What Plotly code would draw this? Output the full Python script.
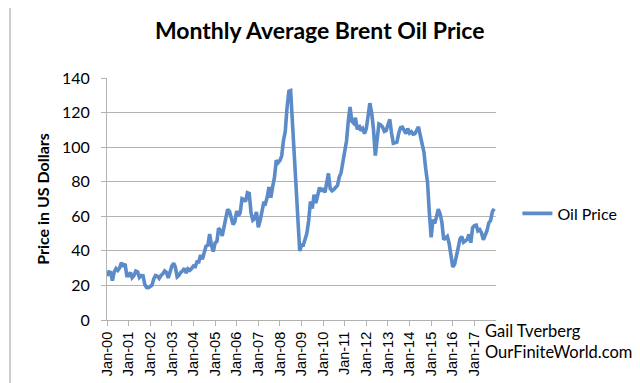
import plotly.graph_objects as go
import pandas as pd

years = list(range(2000, 2018))
prices = [
    # 2000
    25.51, 27.78, 27.49, 22.76, 27.74, 29.80, 28.68, 30.20, 33.14, 30.96, 32.55, 25.66,
    # 2001
    25.62, 27.50, 24.50, 25.66, 28.31, 27.85, 24.61, 25.68, 25.62, 20.54, 18.80, 18.71,
    # 2002
    19.42, 20.28, 23.70, 25.73, 25.35, 24.08, 25.74, 26.65, 28.40, 27.54, 24.34, 28.33,
    # 2003
    31.18, 32.77, 30.61, 25.00, 25.86, 27.65, 28.35, 29.89, 27.11, 29.61, 28.75, 29.81,
    # 2004
    31.28, 30.86, 33.63, 33.59, 37.57, 35.18, 38.22, 42.74, 43.20, 49.78, 43.11, 39.60,
    # 2005
    44.51, 45.48, 53.10, 51.88, 48.65, 54.35, 57.52, 63.98, 62.91, 58.54, 55.24, 56.86,
    # 2006
    62.99, 60.21, 62.06, 70.26, 69.78, 68.56, 73.67, 73.23, 61.96, 57.81, 58.76, 62.47,
    # 2007
    53.68, 57.56, 62.05, 67.49, 67.21, 71.05, 76.93, 70.76, 77.17, 82.34, 92.41, 90.93,
    # 2008
    92.18, 94.99, 103.64, 109.07, 122.80, 132.32, 132.72, 113.24, 97.23, 71.58, 52.45, 39.95,
    # 2009
    43.44, 43.32, 46.54, 50.18, 57.30, 68.61, 64.44, 72.51, 67.65, 72.77, 76.66, 74.46,
    # 2010
    76.17, 73.75, 78.83, 84.82, 75.95, 74.76, 75.58, 77.04, 77.84, 82.67, 85.28, 91.45,
    # 2011
    96.52, 103.72, 114.64, 123.26, 114.99, 113.83, 116.97, 110.22, 112.83, 109.55, 110.77, 107.87,
    # 2012
    110.69, 119.33, 125.45, 119.75, 110.34, 95.16, 102.62, 113.36, 112.86, 111.71, 109.06, 109.49,
    # 2013
    112.96, 116.05, 108.47, 102.25, 102.56, 102.92, 107.93, 111.28, 111.60, 109.08, 107.79, 110.76,
    # 2014
    108.12, 108.90, 107.48, 107.76, 109.54, 111.80, 106.77, 101.61, 97.09, 87.43, 79.44, 62.34,
    # 2015
    47.76, 58.10, 55.89, 59.52, 64.08, 61.48, 56.56, 46.52, 47.62, 48.43, 44.27, 38.01,
    # 2016
    30.70, 32.18, 38.21, 41.58, 46.74, 48.25, 44.95, 45.84, 46.57, 49.52, 44.73, 53.31,
    # 2017
    54.58, 54.87, 51.59, 52.31, 50.33, 46.37, 48.48, 51.70, 56.15, 57.51, 62.71, 64.37,
]
months = pd.date_range("2000-01-01", periods=len(prices), freq="MS")
tick_vals = [pd.Timestamp(f"{y}-01-01") for y in years]
tick_text = [f"Jan-{y % 100:02d}" for y in years]
y_ticks = [0, 20, 40, 60, 80, 100, 120, 140]

fig = go.Figure()
fig.add_trace(go.Scatter(
    x=months, y=prices, mode="lines", name="Oil Price",
    line=dict(color="#5B8BC8", width=3.6),
))

grid = "#B3B3B3"
fig.update_layout(
    width=640, height=383,
    margin=dict(l=99, r=152, t=70, b=71),
    paper_bgcolor="white", plot_bgcolor="white",
    title=dict(text="<b>Monthly Average Brent Oil Price</b>", x=0.487, xanchor="center",
               y=0.94, yanchor="middle",
               font=dict(family="Lato", size=23, color="black")),
    showlegend=True,
    legend=dict(x=1.055, y=0.44, xanchor="left", yanchor="middle",
                font=dict(family="Lato", size=16, color="black"),
                bgcolor="rgba(0,0,0,0)"),
    xaxis=dict(
        range=[pd.Timestamp("2000-01-01"), pd.Timestamp("2018-01-01")],
        tickvals=tick_vals, ticktext=tick_text, tickangle=-90,
        ticks="outside", ticklen=5, tickcolor=grid,
        showline=True, linecolor=grid, linewidth=1,
        showgrid=False, zeroline=False,
        tickfont=dict(family="Liberation Sans", size=14.5, color="black"),
    ),
    yaxis=dict(
        range=[0, 140], tickvals=y_ticks,
        ticks="outside", ticklen=5, tickcolor=grid,
        showline=True, linecolor=grid, linewidth=1,
        showgrid=True, gridcolor=grid, gridwidth=1, zeroline=False,
        ticklabelstandoff=8,
        tickfont=dict(family="Lato", size=16, color="black"),
        title=dict(text="<b>Price in US Dollars</b>",
                   font=dict(family="Lato", size=16, color="black"), standoff=8),
    ),
)

fig.add_annotation(xref="paper", yref="paper", x=0.967, y=0.003, xanchor="left", yanchor="top",
                   text="Gail Tverberg<br>OurFiniteWorld.com", showarrow=False, align="left",
                   font=dict(family="Lato", size=16.5, color="black"))

# outer chart frame (left and bottom edges)
pw, ph = 640 - 99 - 152, 383 - 70 - 71
fig.add_shape(type="line", xref="paper", yref="paper",
              x0=(2 - 99) / pw, x1=(2 - 99) / pw, y0=(312 - 383) / ph, y1=312 / ph,
              line=dict(color="#BDBDBD", width=1.5))
fig.add_shape(type="line", xref="paper", yref="paper",
              x0=(2 - 99) / pw, x1=(640 - 99) / pw, y0=(312 - 381) / ph, y1=(312 - 381) / ph,
              line=dict(color="#BDBDBD", width=1.5))

fig.write_html("out.html")
